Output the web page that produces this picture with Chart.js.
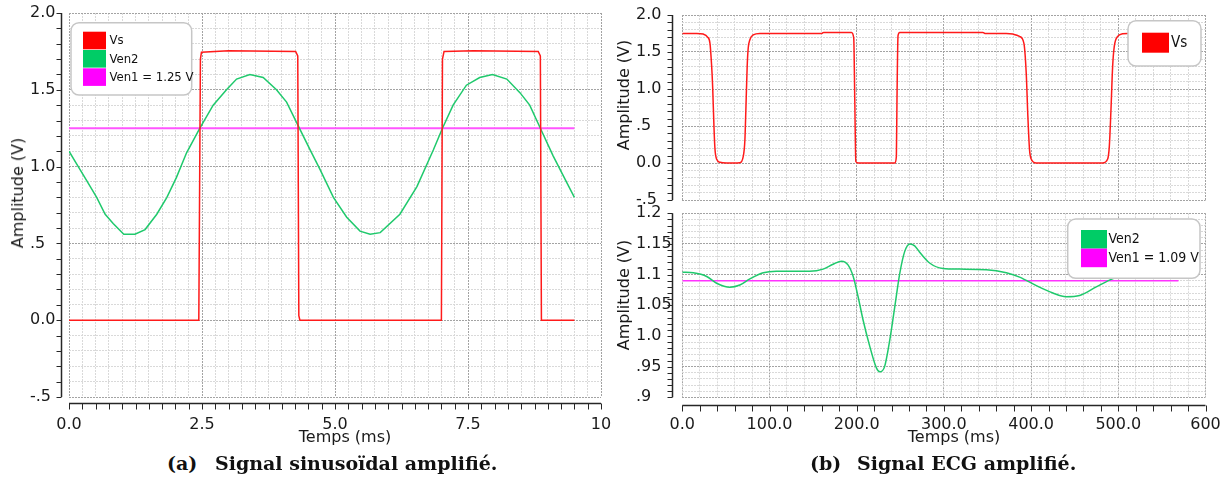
<!DOCTYPE html>
<html>
<head>
<meta charset="utf-8">
<script src="https://cdn.jsdelivr.net/npm/chart.js@4.4.1/dist/chart.umd.min.js"></script>
<style>
  body { margin: 0; background: #fff; }
  #page { position: relative; width: 1225px; height: 477px; overflow: hidden; font-family: 'DejaVu Sans', sans-serif; color: #1a1a1a; }
  canvas { position: absolute; }
  .xt { position: absolute; top: 428px; font-size: 16px; line-height: 18px; white-space: nowrap; transform: translateX(-50%); }
  .yt { position: absolute; font-size: 16px; line-height: 18px; height: 18px; white-space: nowrap; transform: translate(-50%, -50%) rotate(-90deg); }
  .cap { position: absolute; top: 451px; font-family: 'DejaVu Serif', serif; font-weight: bold; font-size: 19px; line-height: 24px; white-space: nowrap; color: #111; }
</style>
</head>
<body>
<div id="page">
  <canvas id="cA" width="612" height="440" style="left:0;top:0;width:612px;height:440px"></canvas>
  <canvas id="cB1" width="613" height="212" style="left:612px;top:0;width:613px;height:212px"></canvas>
  <canvas id="cB2" width="613" height="240" style="left:612px;top:200px;width:613px;height:240px"></canvas>

  <div class="yt" style="left:18px;top:192.5px">Amplitude (V)</div>
  <div class="yt" style="left:623.7px;top:95px">Amplitude (V)</div>
  <div class="yt" style="left:623.7px;top:295px">Amplitude (V)</div>
  <div class="xt" style="left:345px">Temps (ms)</div>
  <div class="xt" style="left:954px">Temps (ms)</div>

  <span class="cap" style="left:167px">(a)</span>
  <span class="cap" style="left:215px">Signal sinusoïdal amplifié.</span>
  <span class="cap" style="left:810px">(b)</span>
  <span class="cap" style="left:857px">Signal ECG amplifié.</span>
</div>

<script>
// (a) sinusoidal signal, time in ms
var sinVsT   = [0, 2.44, 2.47, 2.49, 3.0, 4.26, 4.30, 4.32, 4.34, 7.00, 7.02, 7.05, 7.6, 8.82, 8.86, 8.88, 9.5];
var sinVs    = [0, 0, 1.70, 1.745, 1.755, 1.75, 1.72, 0.03, 0, 0, 1.70, 1.75, 1.755, 1.75, 1.72, 0, 0];
var sinVen2T = [0, 0.14, 0.33, 0.52, 0.68, 0.83, 1.03, 1.24, 1.43, 1.65, 1.84, 2.02, 2.21, 2.46, 2.71, 2.96, 3.15, 3.40, 3.65, 3.90, 4.09, 4.33,
                4.53, 4.72, 4.97, 5.22, 5.47, 5.66, 5.85, 6.22, 6.54, 6.85, 7.02, 7.22, 7.47, 7.72, 7.96, 8.23, 8.48, 8.66, 8.86, 9.10, 9.35, 9.50];
var sinVen2  = [1.10, 1.02, 0.91, 0.80, 0.69, 0.63, 0.56, 0.56, 0.59, 0.69, 0.80, 0.93, 1.09, 1.25, 1.40, 1.50, 1.57, 1.60, 1.58, 1.50, 1.42, 1.25,
                1.11, 0.98, 0.80, 0.67, 0.58, 0.56, 0.57, 0.69, 0.87, 1.11, 1.25, 1.40, 1.53, 1.58, 1.60, 1.57, 1.48, 1.40, 1.25, 1.07, 0.90, 0.80];
var sinVen1T = [0, 9.5];
var sinVen1  = [1.25, 1.25];
var sinNames = ['Vs', 'Ven2', 'Ven1 = 1.25 V'];

// (b) ECG signal, time in ms
var ecgVsT = [0, 16.5, 24, 29, 31.7, 33.6, 34.8, 36.3, 37.4, 39.3, 43.2, 50.8, 66, 69.9, 71.8, 72.9, 74.4, 75.6, 77.5, 81.3, 89,
              160, 162, 194, 196.6, 197.8, 199, 201.6, 243.6, 245.5, 246.2, 247.4, 249.3, 344.7, 347, 371.5, 379, 386.7, 391.7,
              394.4, 396.3, 398.2, 400.1, 405.8, 482, 487.8, 489.7, 491.6, 493.5, 495.4, 499.3, 505, 510.7, 570];
var ecgVs  = [1.751, 1.751, 1.742, 1.702, 1.62, 1.32, 1.035, 0.495, 0.20, 0.054, 0.009, 0, 0.005, 0.09, 0.315, 0.72, 1.305, 1.554, 1.666, 1.73, 1.751,
              1.751, 1.765, 1.765, 1.69, 0.855, 0.02, 0, 0, 0.09, 0.855, 1.72, 1.765, 1.765, 1.751, 1.751, 1.742, 1.711, 1.62,
              1.216, 0.63, 0.18, 0.054, 0, 0, 0.054, 0.225, 0.72, 1.305, 1.576, 1.711, 1.746, 1.751, 1.751];
var ecgVen2T = [0, 12.6, 28, 39.4, 54.6, 66, 77.5, 92.8, 108, 146, 161.5, 173, 182.6, 190, 196, 201.6, 207.3, 215, 222.7, 226.5, 232,
                238, 243.7, 249.4, 255, 261, 266.5, 272, 283.6, 299, 318, 348.7, 371.6, 386.8, 406, 425, 440, 455.6, 474.7, 490, 500, 510];
var ecgVen2  = [1.104, 1.103, 1.097, 1.086, 1.0795, 1.083, 1.093, 1.103, 1.1055, 1.1055, 1.109, 1.117, 1.122, 1.116, 1.097, 1.064, 1.026, 0.983, 0.9475, 0.9415, 0.950,
                0.994, 1.048, 1.102, 1.1375, 1.150, 1.147, 1.137, 1.119, 1.110, 1.109, 1.108, 1.103, 1.096, 1.082, 1.070, 1.064, 1.066, 1.080, 1.091, 1.097, 1.10];
var ecgVen1T = [0, 569];
var ecgVen1  = [1.09, 1.09];
var ecgNames = ['Vs', 'Ven2', 'Ven1 = 1.09 V'];

// tick labels
var ampTicks  = [-0.5, 0, 0.5, 1, 1.5, 2];
var ampLabels = ['-.5', '0.0', '.5', '1.0', '1.5', '2.0'];
var ecgTicks  = [0.9, 0.95, 1.0, 1.05, 1.1, 1.15, 1.2];
var ecgLabels = ['.9', '.95', '1.0', '1.05', '1.1', '1.15', '1.2'];
var msTicksA  = [0, 2.5, 5, 7.5, 10];
var msLabelsA = ['0.0', '2.5', '5.0', '7.5', '10'];
var msTicksB  = [0, 100, 200, 300, 400, 500, 600];
var msLabelsB = ['0.0', '100.0', '200.0', '300.0', '400.0', '500.0', '600'];

Chart.defaults.font.family = "'DejaVu Sans', sans-serif";
Chart.defaults.color = '#1a1a1a';

function pts(xs, ys) {
    return xs.map(function (x, i) { return {x: x, y: ys[i]}; });
}

function findMajor(majors, v) {
    return majors.findIndex(function (m) { return Math.abs(m - v) < 1e-6; });
}

function linScale(isX, min, max, step, majors, labels, fitSize, showLabels) {
    return {
        type: 'linear',
        min: min,
        max: max,
        ticks: {
            stepSize: step,
            autoSkip: false,
            maxRotation: 0,
            display: showLabels,
            crossAlign: isX ? 'near' : 'far',
            padding: 18,
            font: {size: 16},
            color: '#1a1a1a',
            callback: function (v) {
                var i = findMajor(majors, v);
                return i < 0 ? '' : labels[i];
            }
        },
        grid: {
            drawTicks: false,
            lineWidth: 1,
            color: function (ctx) {
                if (!ctx.tick) return '#d9d9d9';
                return findMajor(majors, ctx.tick.value) < 0 ? '#d9d9d9' : '#a3a3a3';
            }
        },
        border: {display: false, dash: [2, 1]},
        afterFit: function (s) {
            if (s.isHorizontal()) s.height = fitSize; else s.width = fitSize;
            // labels may overhang the plot area, as in the original
            s.paddingTop = 0; s.paddingBottom = 0; s.paddingLeft = 0; s.paddingRight = 0;
        }
    };
}

// axis line + tick marks drawn a few pixels outside the plot area
var offsetAxes = {
    id: 'offsetAxes',
    afterDraw: function (chart, args, o) {
        var ctx = chart.ctx, a = chart.chartArea;
        var xs = chart.scales.x, ys = chart.scales.y;
        ctx.save();
        ctx.strokeStyle = '#262626';

        var ax = Math.round(a.left - o.yGap) + 0.5;
        var ay = Math.round(a.bottom + o.xGap) + 0.5;
        ctx.lineWidth = 1.5;
        ctx.beginPath();
        ctx.moveTo(ax, a.top);
        ctx.lineTo(ax, a.bottom);
        if (o.xGap) {
            ctx.moveTo(a.left, ay);
            ctx.lineTo(a.right, ay);
        }
        ctx.stroke();

        ctx.lineWidth = 1;
        ctx.beginPath();
        ys.ticks.forEach(function (t) {
            var p = Math.round(ys.getPixelForValue(t.value)) + 0.5;
            ctx.moveTo(ax - 5, p);
            ctx.lineTo(ax, p);
        });
        if (o.xGap) {
            xs.ticks.forEach(function (t) {
                var p = Math.round(xs.getPixelForValue(t.value)) + 0.5;
                ctx.moveTo(p, ay);
                ctx.lineTo(p, ay + 6);
            });
        }
        ctx.stroke();
        ctx.restore();
    }
};

// rounded white legend box with colour swatches
var boxLegend = {
    id: 'boxLegend',
    afterDatasetsDraw: function (chart, args, o) {
        var ctx = chart.ctx;
        ctx.save();
        ctx.beginPath();
        ctx.roundRect(o.x, o.y, o.w, o.h, 8);
        ctx.fillStyle = '#ffffff';
        ctx.fill();
        ctx.lineWidth = 1.5;
        ctx.strokeStyle = '#c6c6c6';
        ctx.stroke();
        ctx.font = o.font;
        ctx.textBaseline = 'middle';
        o.items.forEach(function (di, k) {
            var ds = chart.data.datasets[di];
            var top = o.rows[k];
            ctx.fillStyle = ds.swatch;
            ctx.fillRect(o.sx, top, o.sw, o.rh);
            ctx.fillStyle = '#111';
            ctx.fillText(ds.label, o.tx, top + o.rh / 2 + 0.5);
        });
        ctx.restore();
    }
};

var legendFont = "'DejaVu Sans Condensed', 'Liberation Sans', sans-serif";

function baseOptions(padding, legendOpts, axesOpts, xScale, yScale) {
    return {
        responsive: false,
        animation: false,
        layout: {padding: padding},
        elements: {point: {radius: 0}, line: {tension: 0}},
        plugins: {
            legend: {display: false},
            tooltip: {enabled: false},
            boxLegend: legendOpts,
            offsetAxes: axesOpts
        },
        scales: {x: xScale, y: yScale}
    };
}

new Chart(document.getElementById('cA'), {
    type: 'line',
    data: {
        datasets: [
            {label: sinNames[0], data: pts(sinVsT, sinVs), borderColor: '#ff1a1a', swatch: '#ff0000', borderWidth: 1.5},
            {label: sinNames[1], data: pts(sinVen2T, sinVen2), borderColor: '#1fc96c', swatch: '#00cc66', borderWidth: 1.5},
            {label: sinNames[2], data: pts(sinVen1T, sinVen1), borderColor: '#ff55ff', swatch: '#ff00ff', borderWidth: 2}
        ]
    },
    options: baseOptions(
        {left: 30, top: 13, right: 11, bottom: 0},
        {x: 71, y: 22.7, w: 120.7, h: 72.3, sx: 83, sw: 23, rh: 17.6, rows: [31.7, 50, 68.3], tx: 109.5,
         font: '13px ' + legendFont, items: [0, 1, 2]},
        {yGap: 8, xGap: 6},
        linScale(true, 0, 10, 0.25, msTicksA, msLabelsA, 43, true),
        linScale(false, -0.5, 2, 0.1, ampTicks, ampLabels, 39, true)
    ),
    plugins: [boxLegend, offsetAxes]
});

new Chart(document.getElementById('cB1'), {
    type: 'line',
    data: {
        datasets: [
            {label: ecgNames[0], data: pts(ecgVsT, ecgVs), borderColor: '#ff1a1a', swatch: '#ff0000', borderWidth: 1.5,
             cubicInterpolationMode: 'monotone'}
        ]
    },
    options: baseOptions(
        {left: 24, top: 15, right: 19.5, bottom: 0},
        {x: 516, y: 20.7, w: 73, h: 45.3, sx: 530, sw: 27, rh: 20, rows: [32.7], tx: 559,
         font: '15px ' + legendFont, items: [0]},
        {yGap: 10, xGap: 0},
        linScale(true, 0, 600, 20, msTicksB, msLabelsB, 12, false),
        linScale(false, -0.5, 2, 0.1, ampTicks, ampLabels, 46.3, true)
    ),
    plugins: [boxLegend, offsetAxes]
});

new Chart(document.getElementById('cB2'), {
    type: 'line',
    data: {
        datasets: [
            {label: ecgNames[1], data: pts(ecgVen2T, ecgVen2), borderColor: '#1fc96c', swatch: '#00cc66', borderWidth: 1.5,
             cubicInterpolationMode: 'monotone'},
            {label: ecgNames[2], data: pts(ecgVen1T, ecgVen1), borderColor: '#ff33ff', swatch: '#ff00ff', borderWidth: 1.5}
        ]
    },
    options: baseOptions(
        {left: 24, top: 13.3, right: 19.5, bottom: 0},
        {x: 455.7, y: 19, w: 132.3, h: 59.3, sx: 469, sw: 26, rh: 18.6, rows: [30, 48.6], tx: 496.5,
         font: '14px ' + legendFont, items: [0, 1]},
        {yGap: 10, xGap: 8},
        linScale(true, 0, 600, 20, msTicksB, msLabelsB, 42.7, true),
        linScale(false, 0.9, 1.2, 0.01, ecgTicks, ecgLabels, 46.3, true)
    ),
    plugins: [boxLegend, offsetAxes]
});
</script>
</body>
</html>
